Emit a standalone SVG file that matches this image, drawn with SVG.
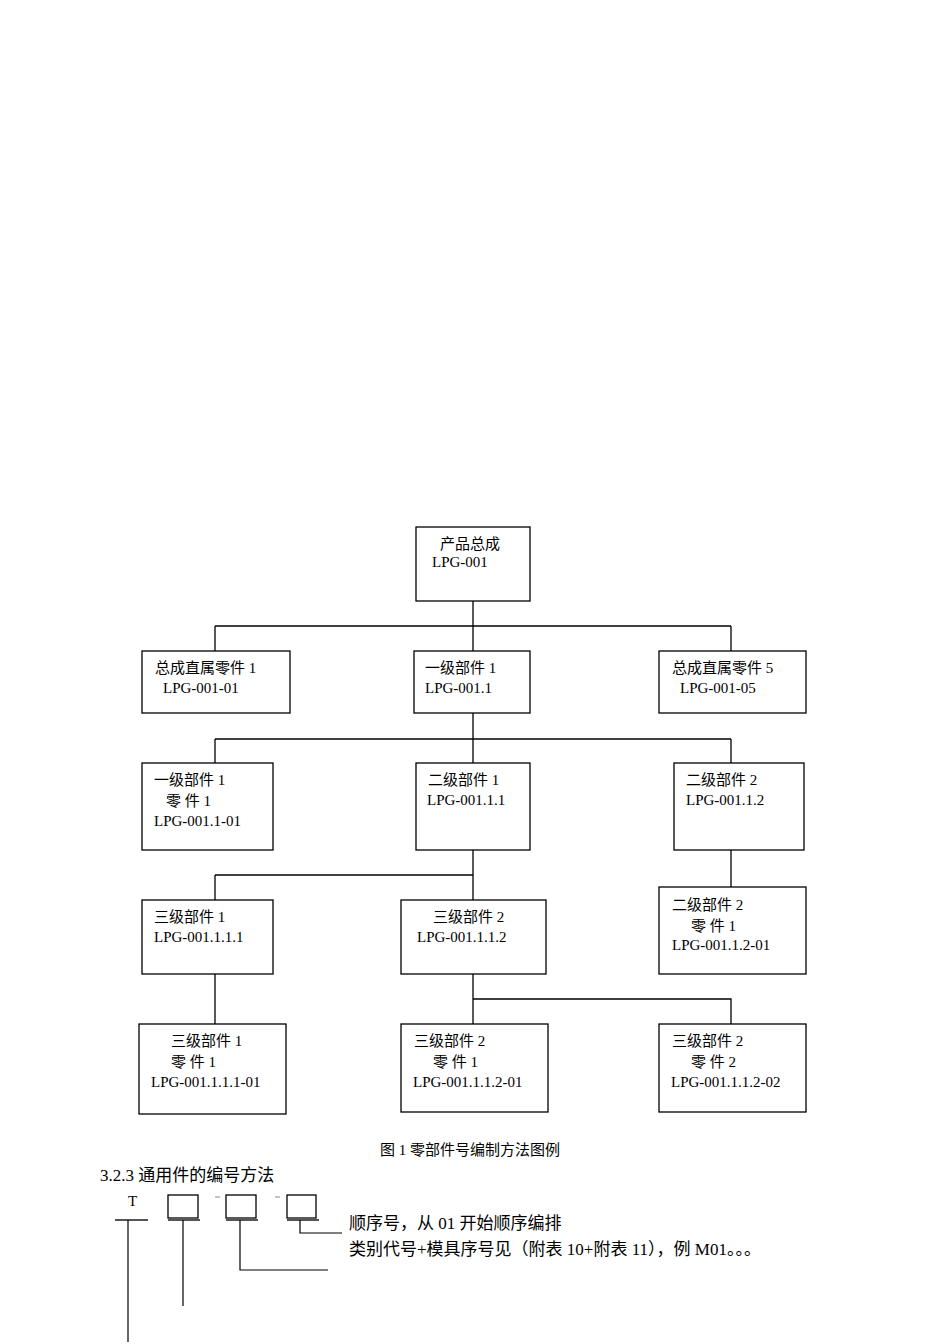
<svg xmlns="http://www.w3.org/2000/svg" width="950" height="1344" viewBox="0 0 950 1344">
<style>
rect.n{fill:#fff;stroke:#000;stroke-width:1.3}
text{font-family:"Liberation Serif","Noto Sans CJK SC",serif;font-size:15px;fill:#000}
.c line,.c polyline{stroke:#000;stroke-width:1.3;fill:none}
.big{font-size:17px}
</style>
<rect width="950" height="1344" fill="#fff"/>
<g class="c" id="connectors">
<line x1="473" y1="601" x2="473" y2="651"/><line x1="215" y1="626" x2="731" y2="626"/>
<line x1="215" y1="626" x2="215" y2="651"/><line x1="731" y1="626" x2="731" y2="651"/>
<line x1="473" y1="713" x2="473" y2="763"/><line x1="215" y1="739" x2="731" y2="739"/>
<line x1="215" y1="739" x2="215" y2="763"/><line x1="731" y1="739" x2="731" y2="763"/>
<line x1="473" y1="850" x2="473" y2="900"/><line x1="215" y1="875" x2="473" y2="875"/>
<line x1="215" y1="875" x2="215" y2="900"/><line x1="731" y1="850" x2="731" y2="887"/>
<line x1="215" y1="974" x2="215" y2="1024"/><line x1="473" y1="974" x2="473" y2="1024"/>
<polyline points="473,999 731,999 731,1024"/>
</g>
<g id="n1"><rect class="n" x="416" y="527" width="114" height="74"/><text x="440" y="549">产品总成</text><text x="432" y="567">LPG-001</text></g>
<g id="n2"><rect class="n" x="142" y="651" width="148" height="62"/><text x="155" y="673">总成直属零件 1</text><text x="163" y="693">LPG-001-01</text></g>
<g id="n3"><rect class="n" x="414" y="651" width="116" height="62"/><text x="425" y="673">一级部件 1</text><text x="425" y="693">LPG-001.1</text></g>
<g id="n4"><rect class="n" x="659" y="651" width="147" height="62"/><text x="672" y="673">总成直属零件 5</text><text x="680" y="693">LPG-001-05</text></g>
<g id="n5"><rect class="n" x="142" y="763" width="131" height="87"/><text x="154" y="785">一级部件 1</text><text x="166" y="806">零  件 1</text><text x="154" y="826">LPG-001.1-01</text></g>
<g id="n6"><rect class="n" x="416" y="763" width="114" height="87"/><text x="428" y="785">二级部件 1</text><text x="427" y="805">LPG-001.1.1</text></g>
<g id="n7"><rect class="n" x="674" y="763" width="130" height="87"/><text x="686" y="785">二级部件 2</text><text x="686" y="805">LPG-001.1.2</text></g>
<g id="n8"><rect class="n" x="142" y="900" width="131" height="74"/><text x="154" y="922">三级部件 1</text><text x="154" y="942">LPG-001.1.1.1</text></g>
<g id="n9"><rect class="n" x="401" y="900" width="145" height="74"/><text x="433" y="922">三级部件 2</text><text x="417" y="942">LPG-001.1.1.2</text></g>
<g id="n10"><rect class="n" x="659" y="887" width="147" height="87"/><text x="672" y="910">二级部件 2</text><text x="691" y="931">零  件 1</text><text x="672" y="950">LPG-001.1.2-01</text></g>
<g id="n11"><rect class="n" x="139" y="1024" width="147" height="90"/><text x="171" y="1046">三级部件 1</text><text x="171" y="1067">零  件 1</text><text x="151" y="1087">LPG-001.1.1.1-01</text></g>
<g id="n12"><rect class="n" x="401" y="1024" width="147" height="88"/><text x="414" y="1046">三级部件 2</text><text x="433" y="1067">零  件 1</text><text x="413" y="1087">LPG-001.1.1.2-01</text></g>
<g id="n13"><rect class="n" x="659" y="1024" width="147" height="88"/><text x="672" y="1046">三级部件 2</text><text x="691" y="1067">零  件 2</text><text x="671" y="1087">LPG-001.1.1.2-02</text></g>
<text x="380" y="1155">图 1  零部件号编制方法图例</text>
<text class="big" x="100" y="1181">3.2.3 通用件的编号方法</text>
<g id="code">
<text x="128" y="1206">T</text>
<rect x="168" y="1195" width="30" height="23" fill="none" stroke="#000" stroke-width="1.3"/>
<rect x="226" y="1195" width="30" height="23" fill="none" stroke="#000" stroke-width="1.3"/>
<rect x="287" y="1195" width="29" height="23" fill="none" stroke="#000" stroke-width="1.3"/>
<line x1="215" y1="1197" x2="220" y2="1197" stroke="#888"/><line x1="275" y1="1197" x2="280" y2="1197" stroke="#888"/>
<g stroke="#555" stroke-width="2"><line x1="115" y1="1220" x2="148" y2="1220"/><line x1="168" y1="1220" x2="200" y2="1220"/><line x1="226" y1="1220" x2="258" y2="1220"/><line x1="287" y1="1220" x2="319" y2="1220"/></g>
<g stroke="#000" stroke-width="1.2" fill="none"><line x1="128" y1="1220" x2="128" y2="1342"/><line x1="183" y1="1220" x2="183" y2="1306"/><polyline points="240,1220 240,1270 328,1270"/><polyline points="300,1220 300,1233 342,1233"/></g>
<text class="big" x="349" y="1229">顺序号，从 01 开始顺序编排</text>
<text class="big" x="349" y="1255">类别代号+模具序号见（附表 10+附表 11），例 M01。。。</text>
</g>
</svg>
